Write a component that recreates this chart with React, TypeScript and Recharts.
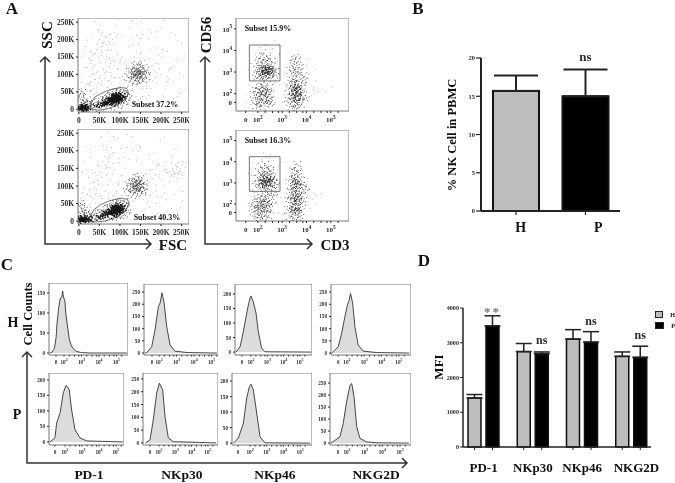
import React from 'react'
import {
  Area, AreaChart, Bar, BarChart, ErrorBar, LabelList, Legend, ReferenceArea,
  Scatter, ScatterChart, XAxis, YAxis,
} from 'recharts'

type Pair = [number, number]

// panel A, FSC / SSC in thousands
const fscTicks = [0, 50, 100, 150, 200, 250]
const sscTicks = [0, 50, 100, 150, 200, 250]

const sscTopSparse: Pair[] = [[12,40],[18,70],[25,95],[22,120],[35,60],[40,85],[30,140],[45,110],[50,135],[55,165],[60,190],[65,205],[58,220],[72,195],[80,170],[68,150],[75,120],[85,140],[95,115],[90,90],[100,75],[110,85],[115,110],[105,150],[120,180],[130,205],[125,235],[90,240],[50,245],[30,215],[15,180],[8,150],[10,100],[6,60],[20,30],[28,52],[42,48],[55,70],[62,88],[70,62],[80,72],[95,62],[120,68],[130,60],[145,70],[155,60],[165,60],[175,85],[185,110],[195,130],[205,150],[215,165],[225,120],[240,140],[250,190],[235,215],[200,235],[170,200],[150,160],[160,140],[178,125],[190,75],[210,60],[230,80],[245,45],[150,30],[170,40],[190,25],[62,195],[67,185],[55,180],[70,170],[48,150],[38,125],[33,100],[28,80],[20,55],[15,62],[45,75],[52,98],[60,115],[78,105],[88,125],[100,130],[112,135],[135,150],[145,185],[155,215],[175,170],[215,95],[200,100],[165,30],[135,20],[75,215],[82,200],[40,160],[24,145],[105,210],[185,205],[140,245],[255,95],[230,30]]
const sscTopMid: Pair[] = [[118,95],[122,110],[125,82],[128,100],[130,118],[132,90],[133,75],[135,108],[136,125],[137,95],[138,84],[139,112],[140,100],[141,130],[142,92],[143,106],[144,118],[145,80],[146,98],[147,110],[148,88],[149,125],[150,102],[151,94],[152,115],[153,108],[155,85],[156,120],[158,100],[160,112],[162,92],[165,105],[134,100],[141,104],[144,96],[138,102],[3,8],[5,20],[6,35],[8,12],[10,25],[12,5],[14,18],[16,10],[18,28],[20,8],[22,15],[25,5],[4,45],[7,50],[28,18],[30,12],[30,8],[35,14],[38,6],[42,20],[48,24],[50,5],[55,28],[60,32],[62,8],[68,36],[70,10],[74,42],[78,46],[82,50],[86,12],[90,52],[94,10],[98,50],[102,14],[106,48],[110,18],[112,44],[115,30],[118,38],[120,46],[116,22],[108,56],[95,56],[80,40],[72,34],[65,30]]
const sscTopCore: Pair[] = [[3,3],[6,2],[9,4],[12,3],[15,5],[18,3],[8,8],[13,8],[22,4],[5,6],[10,7],[16,2],[45,10],[52,12],[58,14],[64,16],[70,18],[75,22],[80,20],[84,26],[88,30],[92,26],[96,32],[100,36],[85,36],[90,38],[78,30],[95,42],[105,40],[110,34],[72,26],[66,22],[60,20],[100,24],[92,18],[82,14],[80,34],[86,22],[90,34],[94,36],[98,28],[104,32],[76,26],[88,42],[82,30],[96,38],[92,32],[86,30]]
const sscTopGate: Pair[] = [[27,7],[32,22],[39,35],[52,44],[67,52],[85,59],[104,62],[116,60],[120,50],[118,38],[112,28],[98,16],[84,7],[68,1],[51,-3],[36,-1],[27,7]]

const sscBottomSparse: Pair[] = [[14,45],[20,75],[27,90],[24,125],[36,65],[42,90],[32,145],[47,105],[52,140],[58,170],[62,185],[66,150],[60,215],[74,190],[82,165],[70,135],[77,115],[87,145],[97,110],[92,85],[103,72],[112,88],[118,105],[108,160],[122,175],[132,200],[128,240],[95,235],[55,240],[28,205],[12,170],[9,140],[11,95],[5,65],[18,32],[26,48],[40,52],[53,72],[64,85],[72,65],[84,74],[97,65],[122,66],[132,58],[147,66],[157,62],[168,55],[178,80],[188,105],[197,125],[207,155],[212,170],[222,128],[242,135],[252,160],[232,205],[198,230],[172,190],[152,165],[162,135],[180,120],[192,70],[212,62],[232,75],[247,40],[152,28],[172,38],[192,22],[222,140],[228,150],[234,135],[238,148],[244,142],[230,128],[240,122],[248,150],[226,132],[252,130],[236,160],[64,160],[56,125],[45,130],[35,110],[30,70],[150,210],[118,210],[85,195],[105,130],[140,180],[175,145],[205,100],[125,30],[255,85],[215,30]]
const sscBottomMid: Pair[] = [[115,90],[120,108],[123,85],[126,98],[128,115],[130,88],[131,72],[133,105],[134,122],[135,92],[136,82],[137,110],[138,98],[139,128],[140,90],[141,104],[142,115],[143,78],[144,96],[145,108],[146,86],[147,120],[148,100],[149,92],[150,112],[151,105],[153,82],[154,118],[156,98],[158,108],[160,88],[136,100],[140,102],[144,92],[132,96],[3,6],[4,22],[5,38],[7,14],[9,28],[11,6],[13,20],[15,12],[17,32],[19,9],[21,17],[24,6],[4,50],[8,48],[27,20],[30,14],[32,9],[36,16],[40,7],[44,22],[49,26],[52,6],[56,30],[61,34],[63,9],[69,38],[72,11],[75,44],[79,48],[83,52],[87,13],[91,54],[95,11],[99,52],[103,15],[107,50],[111,20],[113,46],[116,32],[119,40],[117,24],[109,58],[96,58],[81,42],[73,36],[66,32]]
const sscBottomCore: Pair[] = [[3,3],[6,5],[9,2],[12,6],[15,3],[18,7],[8,10],[22,3],[26,6],[30,4],[4,8],[11,4],[20,6],[47,11],[54,14],[60,16],[66,18],[72,22],[77,24],[82,22],[86,28],[90,32],[94,28],[98,34],[102,38],[87,38],[92,40],[80,32],[97,44],[106,40],[110,36],[74,28],[68,24],[62,22],[102,26],[94,20],[84,16],[82,36],[88,24],[90,36],[94,38],[98,30],[104,34],[78,28],[88,44],[84,30],[96,40],[92,34],[86,32]]
const sscBottomGate: Pair[] = [[24,4],[30,20],[38,34],[52,46],[68,55],[86,62],[104,65],[118,62],[122,52],[118,38],[110,26],[96,15],[80,6],[62,0],[44,-2],[30,-2],[24,4]]

// panel A, CD3 / CD56 in decades (0 sits below the 10^2 tick)
const cdTopSparse: Pair[] = [[1.7,1.5],[1.8,2.6],[1.9,3.8],[2.6,4.1],[2.9,3.9],[3.0,1.6],[2.9,2.4],[2.7,2.5],[1.55,1.9],[1.65,2.4],[4.2,1.9],[4.3,2.3],[4.5,2.1],[4.8,2.1],[3.1,3.0],[3.2,2.8],[1.6,3.1],[1.75,3.4],[2.8,3.5],[2.7,3.7],[2.1,4.15],[2.4,4.25],[4.1,2.9],[4.0,3.3],[3.05,1.3]]
const cdTopMid: Pair[] = [[1.9,2.8],[1.95,3.2],[2.0,3.5],[2.05,2.9],[2.1,3.3],[2.1,3.7],[2.15,2.75],[2.15,3.1],[2.2,3.55],[2.2,2.7],[2.25,3.3],[2.25,3.85],[2.3,2.85],[2.35,3.45],[2.35,3.75],[2.4,2.7],[2.4,3.3],[2.45,3.6],[2.5,2.85],[2.5,3.25],[2.55,3.5],[2.6,3.0],[2.6,2.75],[2.65,3.25],[2.7,3.05],[2.75,2.85],[2.0,3.0],[2.1,2.95],[2.2,3.2],[2.3,3.25],[2.5,3.05],[2.55,3.15],[1.8,1.8],[1.85,2.1],[1.9,1.5],[1.95,2.3],[2.0,1.75],[2.0,2.05],[2.05,1.4],[2.1,2.25],[2.1,1.9],[2.15,1.6],[2.2,2.1],[2.2,2.4],[2.25,1.3],[2.25,1.8],[2.3,2.0],[2.35,1.55],[2.35,2.3],[2.4,1.85],[2.45,2.1],[2.5,1.5],[2.5,1.95],[2.55,2.25],[2.6,1.7],[2.15,2.0],[2.05,2.35],[2.3,1.65],[2.2,1.95],[2.05,1.6],[2.3,2.15],[2.45,1.7],[1.95,1.95],[2.15,1.75],[2.35,2.05],[2.1,2.1],[2.25,2.25],[2.0,1.55],[3.2,1.7],[3.25,2.2],[3.3,1.4],[3.3,2.5],[3.35,1.9],[3.4,2.7],[3.4,1.6],[3.4,3.3],[3.45,2.3],[3.45,3.0],[3.5,1.35],[3.5,2.9],[3.5,3.5],[3.55,1.75],[3.55,2.6],[3.55,3.2],[3.6,3.7],[3.6,1.3],[3.65,2.4],[3.65,3.0],[3.7,1.6],[3.7,2.75],[3.7,3.35],[3.75,2.1],[3.75,3.1],[3.8,1.5],[3.8,2.5],[3.85,1.85],[3.85,2.85],[3.9,2.2],[3.95,2.65],[4.0,1.8],[3.3,3.1],[3.45,3.6]]
const cdTopCore: Pair[] = [[2.2,3.05],[2.3,3.0],[2.35,3.12],[2.4,3.0],[2.3,3.12],[2.42,3.1],[2.28,2.95],[2.45,3.02],[2.15,3.2],[2.5,3.15],[2.2,2.9],[2.45,2.88],[3.45,2.0],[3.5,2.15],[3.55,1.95],[3.6,2.1],[3.65,1.9],[3.5,1.8],[3.6,2.25],[3.55,2.4],[3.65,2.15],[3.45,2.3],[3.7,2.0],[3.6,1.7],[3.4,1.8],[3.7,2.3],[3.4,2.15],[3.75,1.8],[3.55,1.6],[3.5,2.55]]
const cdTopGate = { x1: 1.65, x2: 2.91, y1: 2.59, y2: 4.25 }

const cdBottomSparse: Pair[] = [[1.75,1.6],[1.85,2.55],[1.95,3.85],[2.65,4.05],[2.85,3.8],[3.02,1.5],[2.95,2.3],[2.75,2.55],[1.6,1.95],[1.7,2.35],[4.15,1.8],[4.25,2.2],[4.4,2.4],[3.15,3.0],[3.25,2.9],[1.65,3.05],[1.8,3.35],[2.8,3.6],[2.65,3.75],[2.15,4.1],[2.35,4.2],[4.1,2.75],[4.05,3.2],[4.05,2.4],[3.08,1.25]]
const cdBottomMid: Pair[] = [[1.9,2.85],[1.98,3.25],[2.02,3.55],[2.08,2.95],[2.12,3.4],[2.12,3.8],[2.18,2.8],[2.18,3.15],[2.22,3.6],[2.22,2.72],[2.28,3.35],[2.28,3.9],[2.32,2.9],[2.38,3.5],[2.38,3.7],[2.42,2.75],[2.42,3.35],[2.48,3.6],[2.52,2.9],[2.52,3.3],[2.58,3.45],[2.62,3.05],[2.62,2.78],[2.68,3.25],[2.72,3.0],[2.02,3.05],[2.12,3.0],[2.22,3.25],[2.32,3.3],[2.52,3.1],[1.75,1.75],[1.8,2.05],[1.85,1.5],[1.9,2.25],[1.95,1.7],[1.98,2.0],[2.0,1.35],[2.05,2.3],[2.08,1.85],[2.1,1.55],[2.15,2.1],[2.15,2.4],[2.2,1.3],[2.2,1.8],[2.25,2.0],[2.3,1.5],[2.3,2.3],[2.35,1.85],[2.4,2.1],[2.45,1.45],[2.45,1.95],[2.5,2.4],[2.55,1.7],[2.6,2.1],[2.65,2.45],[2.1,2.0],[2.0,1.9],[2.25,1.65],[2.4,2.55],[2.18,1.95],[2.03,1.62],[2.28,2.12],[2.42,1.72],[1.92,1.92],[2.12,1.72],[2.32,2.02],[2.08,2.12],[2.22,2.22],[1.98,1.52],[3.2,1.75],[3.22,2.25],[3.28,1.45],[3.3,2.55],[3.32,1.95],[3.38,2.75],[3.4,1.65],[3.42,3.35],[3.45,2.35],[3.45,3.05],[3.48,1.35],[3.5,2.95],[3.5,3.6],[3.52,1.7],[3.55,2.65],[3.55,3.25],[3.6,3.9],[3.6,1.25],[3.65,2.45],[3.65,3.05],[3.68,1.55],[3.7,2.8],[3.7,3.4],[3.72,2.15],[3.75,3.15],[3.78,1.45],[3.8,2.55],[3.85,1.9],[3.85,2.9],[3.9,2.25],[3.95,2.7],[3.32,3.15],[3.48,3.7],[3.62,3.55]]
const cdBottomCore: Pair[] = [[2.2,3.1],[2.3,3.02],[2.35,3.15],[2.4,3.05],[2.3,2.98],[2.42,3.14],[2.25,3.18],[2.48,3.06],[2.15,3.0],[2.5,3.2],[2.25,2.9],[2.5,2.95],[3.45,2.0],[3.5,2.15],[3.55,1.85],[3.6,2.05],[3.6,1.7],[3.5,1.6],[3.55,2.35],[3.5,2.6],[3.6,2.85],[3.55,3.05],[3.65,2.5],[3.45,2.8],[3.6,2.25],[3.4,1.75],[3.7,2.2],[3.4,2.3],[3.7,1.8],[3.5,3.2],[3.65,2.95]]
const cdBottomGate = { x1: 1.65, x2: 2.91, y1: 2.6, y2: 4.24 }

// panel C histograms: decade position, cell count
const histPd1H: Pair[] = [[1.2,0],[1.31,2],[1.45,12],[1.55,40],[1.6,75],[1.7,115],[1.78,135],[1.88,142],[1.92,155],[1.97,140],[2.05,130],[2.1,100],[2.22,60],[2.3,35],[2.4,20],[2.5,12],[2.7,4],[3,1],[3.5,0],[5.6,0]]
const histNkp30H: Pair[] = [[1.2,0],[1.3,2],[1.58,26],[1.77,95],[1.96,190],[2.06,205],[2.17,247],[2.29,205],[2.44,108],[2.63,33],[2.9,8],[3.6,2],[5.3,0]]
const histNkp46H: Pair[] = [[1.08,0],[1.33,18],[1.53,70],[1.74,134],[1.84,162],[1.94,186],[2.0,193],[2.14,173],[2.31,134],[2.45,70],[2.65,14],[2.86,1],[5.7,0]]
const histNkg2dH: Pair[] = [[1.12,0],[1.5,26],[1.69,80],[1.88,148],[2.02,195],[2.13,217],[2.21,244],[2.33,205],[2.46,108],[2.65,33],[2.94,8],[3.7,2],[5.6,0]]
const histPd1P: Pair[] = [[1.12,0],[1.41,13],[1.51,61],[1.71,93],[1.9,158],[2.06,182],[2.16,177],[2.25,168],[2.39,103],[2.59,39],[2.88,13],[3.28,3],[5.4,0]]
const histNkp30P: Pair[] = [[1.18,0],[1.45,12],[1.65,90],[1.86,195],[2.02,233],[2.23,207],[2.37,103],[2.57,20],[2.88,5],[4.5,2],[5.5,0]]
const histNkp46P: Pair[] = [[1.0,0],[1.3,16],[1.6,64],[1.8,145],[1.96,182],[2.06,190],[2.2,171],[2.4,97],[2.6,20],[2.9,1],[5.6,0]]
const histNkg2dP: Pair[] = [[1.1,0],[1.6,26],[1.79,83],[1.98,172],[2.17,241],[2.27,248],[2.4,193],[2.55,68],[2.73,20],[3.1,5],[3.68,1],[5.5,0]]

const ticks200 = [0, 50, 100, 150, 200]
const ticks150 = [0, 50, 100, 150]
const ticks250 = [0, 50, 100, 150, 200, 250]
const minorDecades = [2.3, 2.6, 2.85, 3.3, 3.6, 3.85, 4.3, 4.6, 4.85, 5.3]

// panel B
const nkGroups = ['H', 'P']
const nkPercent = [15.7, 15.0]
const nkUpper = [17.7, 18.5]
const nkSig = ['', 'ns']
const nkColors = ['#bdbdbd', '#000000']

// panel D
const mfiMarkers = ['PD-1', 'NKp30', 'NKp46', 'NKG2D']
const mfiH = [1410, 2745, 3105, 2608]
const mfiHUpper = [1510, 2978, 3377, 2735]
const mfiP = [3484, 2686, 3017, 2579]
const mfiPUpper = [3776, 2735, 3319, 2900]
const mfiSig = ['**', 'ns', 'ns', 'ns']

const SERIF = '"Liberation Serif", serif'
const INK = '#2a2a2a'

const toPoints = (pairs: Pair[]) => pairs.map(([x, y]) => ({ x, y }))

// one event mark is drawn as a small grain of dots, so a cloud reads as stippled
const grains = [
  [[0, 0], [2, -1], [-2, 1], [1, 2], [-1, -2]],
  [[0, 0], [-2, -1], [2, 1], [-1, 2], [1, -2], [3, 0]],
  [[0, 0], [1, -3], [-3, 0], [2, 2], [-1, 1]],
  [[0, 0], [3, -2], [-2, -2], [-2, 3], [1, 1], [3, 2]],
]

const grain = (spread: number, r: number, fill: string, count = 6) => (p: any) => {
  const pick = grains[Math.abs(Math.round(p.cx * 7 + p.cy * 13)) % grains.length].slice(0, count)
  return (
    <g fill={fill}>
      {pick.map(([dx, dy], i) => <circle key={i} cx={p.cx + dx * spread} cy={p.cy + dy * spread} r={r} />)}
    </g>
  )
}

const Place = ({ x, y, w, h, children }: any) => (
  <div style={{ position: 'absolute', left: x, top: y, width: w, height: h }}>{children}</div>
)

const SmallText = ({ x, y, anchor, size, children }: any) => (
  <text x={x} y={y} textAnchor={anchor} fontFamily={SERIF} fontWeight="bold" fontSize={size} fill={INK}>
    {children}
  </text>
)

const powerTick = (zero: number, size: number, axis: 'x' | 'y') => (p: any) => {
  const v = p.payload.value
  const labelled = v === zero || v === 2 || v === 3 || v === 4 || v === 5
  if (!labelled) return <g />
  const y = axis === 'x' ? p.y + size : p.y + size * 0.4
  const anchor = axis === 'x' ? 'middle' : 'end'
  if (v === zero) return <SmallText x={p.x} y={y} anchor={anchor} size={size}>0</SmallText>
  return (
    <SmallText x={p.x} y={y} anchor={anchor} size={size}>
      10<tspan dy={-size * 0.45} fontSize={size * 0.75}>{v}</tspan>
    </SmallText>
  )
}

const kTick = (axis: 'x' | 'y') => (p: any) => {
  const v = p.payload.value
  const label = v === 0 ? '0' : `${v}K`
  return axis === 'x'
    ? <SmallText x={p.x} y={p.y + 7} anchor="middle" size={7.5}>{label}</SmallText>
    : <SmallText x={p.x} y={p.y + 2.5} anchor="end" size={7.5}>{label}</SmallText>
}

const countTick = (p: any) => (
  <SmallText x={p.x} y={p.y + 2} anchor="end" size={5.2}>{p.payload.value}</SmallText>
)

const CloudPlot = ({ box, axisW, axisH, xDomain, yDomain, xTicks, yTicks, xTick, yTick, sparse, mid, core, coreShape, gate, rect }: any) => (
  <Place x={box.x - axisW} y={box.y} w={box.w + axisW} h={box.h + axisH}>
    <ScatterChart width={box.w + axisW} height={box.h + axisH} margin={{ top: 0, right: 0, bottom: 0, left: 0 }}>
      <XAxis type="number" dataKey="x" domain={xDomain} ticks={xTicks} interval={0} height={axisH} axisLine={false}
        tickSize={2} tickMargin={2} tick={xTick} stroke={INK} allowDataOverflow />
      <YAxis type="number" dataKey="y" domain={yDomain} ticks={yTicks} interval={0} width={axisW} axisLine={false}
        tickSize={2} tickMargin={2} tick={yTick} stroke={INK} allowDataOverflow />
      <Scatter data={toPoints(sparse)} shape={grain(2.2, 0.45, '#6a6a6a', 2)} isAnimationActive={false} />
      <Scatter data={toPoints(mid)} shape={grain(1.3, 0.5, '#3a3a3a')} isAnimationActive={false} />
      <Scatter data={toPoints(core)} shape={coreShape} isAnimationActive={false} />
      {gate && (
        <Scatter data={toPoints(gate)} shape={() => <g />} line={{ stroke: '#555', strokeWidth: 0.8 }} isAnimationActive={false} />
      )}
      {rect && <ReferenceArea {...rect} fill="none" stroke="#555" strokeWidth={0.8} />}
      <ReferenceArea x1={xDomain[0]} x2={xDomain[1]} y1={yDomain[0]} y2={yDomain[1]} fill="none" stroke="#777" strokeWidth={1} />
    </ScatterChart>
  </Place>
)

const HistPlot = ({ box, zero, xDomain, yDomain, yTicks, data }: any) => (
  <Place x={box.x - 18} y={box.y} w={box.w + 18} h={box.h + 16}>
    <AreaChart width={box.w + 18} height={box.h + 16} data={toPoints(data)} margin={{ top: 0, right: 0, bottom: 0, left: 0 }}>
      <XAxis type="number" dataKey="x" domain={xDomain} ticks={[zero, 2, 3, 4, 5, ...minorDecades].sort((a, b) => a - b)}
        interval={0} height={16} axisLine={false} tickSize={1.5} tickMargin={2} tick={powerTick(zero, 5.2, 'x')} stroke={INK} allowDataOverflow />
      <YAxis type="number" domain={yDomain} ticks={yTicks} interval={0} width={18} axisLine={false}
        tickSize={2} tickMargin={2} tick={countTick} stroke={INK} allowDataOverflow />
      <Area type="linear" dataKey="y" baseValue={0} stroke="#333" strokeWidth={0.9} fill="#dcdcdc" fillOpacity={1} dot={false} isAnimationActive={false} />
      <ReferenceArea x1={xDomain[0]} x2={xDomain[1]} y1={yDomain[0]} y2={yDomain[1]} fill="none" stroke="#777" strokeWidth={1} />
    </AreaChart>
  </Place>
)

const flowMinor = [2.3, 2.6, 2.85, 3.3, 3.6, 3.85, 4.3, 4.6, 4.85, 5.3]
const flowXTicks = [1.5, 2, ...flowMinor, 3, 4, 5].sort((a, b) => a - b)
const flowYTicks = [1.6, 2, 3, 4, 5]

const histPanels = [
  { box: { x: 49, y: 283, w: 79, h: 72 }, zero: 1.54, xDomain: [1.14, 5.66], yDomain: [-5, 175], yTicks: ticks150, data: histPd1H },
  { box: { x: 144, y: 284, w: 74, h: 71 }, zero: 1.6, xDomain: [1.14, 5.37], yDomain: [-8, 283], yTicks: ticks250, data: histNkp30H },
  { box: { x: 235, y: 284, w: 77, h: 71 }, zero: 1.45, xDomain: [1.02, 5.74], yDomain: [-10, 234], yTicks: ticks200, data: histNkp46H },
  { box: { x: 331, y: 284, w: 80, h: 71 }, zero: 1.5, xDomain: [1.08, 5.7], yDomain: [-8, 283], yTicks: ticks250, data: histNkg2dH },
  { box: { x: 49, y: 373, w: 75, h: 72 }, zero: 1.41, xDomain: [1.06, 5.47], yDomain: [-10, 222], yTicks: ticks200, data: histPd1P },
  { box: { x: 143, y: 373, w: 75, h: 72 }, zero: 1.45, xDomain: [1.02, 5.62], yDomain: [-8, 273], yTicks: ticks250, data: histNkp30P },
  { box: { x: 232, y: 373, w: 80, h: 72 }, zero: 1.28, xDomain: [0.92, 5.71], yDomain: [-6, 226], yTicks: ticks200, data: histNkp46P },
  { box: { x: 330, y: 373, w: 81, h: 72 }, zero: 1.5, xDomain: [1.04, 5.62], yDomain: [-8, 292], yTicks: ticks250, data: histNkg2dP },
]

const nkData = nkGroups.map((name, i) => ({
  name,
  value: nkPercent[i],
  err: [0, nkUpper[i] - nkPercent[i]],
  sig: nkSig[i],
  fill: nkColors[i],
}))

const mfiData = mfiMarkers.map((name, i) => ({
  name,
  h: mfiH[i],
  hErr: [0, mfiHUpper[i] - mfiH[i]],
  p: mfiP[i],
  pErr: [0, mfiPUpper[i] - mfiP[i]],
  sig: mfiSig[i],
}))

const tickBar = (p: any) => {
  const base = p.y + p.height
  const mid = p.x + p.width / 2
  return (
    <g>
      <rect x={p.x} y={p.y} width={p.width} height={p.height} fill={p.fill} stroke="#111" strokeWidth={1.5} />
      <line x1={mid} x2={mid} y1={base} y2={base + 3} stroke="#222" strokeWidth={1} />
    </g>
  )
}

const nkBar = (p: any) => {
  const base = p.y + p.height
  const mid = p.x + p.width / 2
  return (
    <g>
      <rect x={p.x} y={p.y} width={p.width} height={p.height} fill={p.payload.fill} stroke="#111" strokeWidth={2} />
      <line x1={mid} x2={mid} y1={base} y2={base + 4} stroke="#222" strokeWidth={1.2} />
    </g>
  )
}

const mfiSigLabel = (p: any) => {
  const lift = [10, 10, 17, 18][p.index] ?? 0
  const stars = p.value === '**'
  return (
    <text x={p.x + p.width / 2} y={p.y - lift} textAnchor="middle" fontFamily={SERIF} fontWeight="bold"
      fontSize={stars ? 13 : 12} letterSpacing={stars ? 2 : 0} fill={stars ? '#777' : INK}>
      {p.value}
    </text>
  )
}

const groupTick = (shift: number[], size: number, dy: number) => (p: any) => (
  <text x={p.x + (shift[p.index] ?? 0)} y={p.y + dy} textAnchor="middle" fontFamily={SERIF} fontWeight="bold" fontSize={size} fill="#111">
    {p.payload.value}
  </text>
)

const valueTick = (size: number) => (p: any) => (
  <SmallText x={p.x} y={p.y + size * 0.35} anchor="end" size={size}>{p.payload.value}</SmallText>
)

const mfiLegend = () => (
  <div style={{ fontFamily: SERIF, fontWeight: 'bold', fontSize: 6, color: '#111' }}>
    {[['H', '#bdbdbd'], ['P', '#000']].map(([n, c]) => (
      <div key={n} style={{ display: 'flex', alignItems: 'center', height: 11 }}>
        <span style={{ width: 8, height: 5, background: c, border: '1px solid #222', marginRight: 7 }} />
        {n}
      </div>
    ))}
  </div>
)

const Arrow = ({ d }: { d: string }) => <path d={d} fill="none" stroke="#333" strokeWidth={1.5} />

const Caption = ({ x, y, size, rotate, anchor = 'middle', children }: any) => (
  <text x={x} y={y} fontFamily={SERIF} fontWeight="bold" fontSize={size} textAnchor={anchor} fill="#111"
    transform={rotate ? `rotate(-90 ${x} ${y})` : undefined}>
    {children}
  </text>
)

const sscCore = grain(0.9, 0.85, '#151515')
const cdCore = grain(1.2, 0.6, '#222')

export default function App() {
  return (
    <div style={{ position: 'absolute', left: 0, top: 0, width: 675, height: 483, background: '#fff', overflow: 'hidden', filter: 'blur(0.35px)' }}>
      <CloudPlot box={{ x: 78, y: 18, w: 111, h: 94 }} axisW={26} axisH={14} xDomain={[-2, 268]} yDomain={[-8, 262]}
        xTicks={fscTicks} yTicks={sscTicks} xTick={kTick('x')} yTick={kTick('y')}
        sparse={sscTopSparse} mid={sscTopMid} core={sscTopCore} coreShape={sscCore} gate={sscTopGate} />
      <CloudPlot box={{ x: 78, y: 129, w: 111, h: 95 }} axisW={26} axisH={14} xDomain={[-2, 268]} yDomain={[-8, 262]}
        xTicks={fscTicks} yTicks={sscTicks} xTick={kTick('x')} yTick={kTick('y')}
        sparse={sscBottomSparse} mid={sscBottomMid} core={sscBottomCore} coreShape={sscCore} gate={sscBottomGate} />
      <CloudPlot box={{ x: 236, y: 18, w: 113, h: 93 }} axisW={18} axisH={20} xDomain={[1.1, 5.75]} yDomain={[1.2, 5.5]}
        xTicks={flowXTicks} yTicks={flowYTicks} xTick={powerTick(1.5, 7, 'x')} yTick={powerTick(1.6, 7, 'y')}
        sparse={cdTopSparse} mid={cdTopMid} core={cdTopCore} coreShape={cdCore} rect={cdTopGate} />
      <CloudPlot box={{ x: 236, y: 130, w: 113, h: 91 }} axisW={18} axisH={20} xDomain={[1.1, 5.75]} yDomain={[1.2, 5.5]}
        xTicks={flowXTicks} yTicks={flowYTicks} xTick={powerTick(1.5, 7, 'x')} yTick={powerTick(1.6, 7, 'y')}
        sparse={cdBottomSparse} mid={cdBottomMid} core={cdBottomCore} coreShape={cdCore} rect={cdBottomGate} />

      {histPanels.map((panel, i) => <HistPlot key={i} {...panel} />)}

      <Place x={445} y={36} w={175} h={200}>
        <BarChart width={175} height={200} data={nkData} margin={{ top: 22, right: 0, bottom: 0, left: 0 }}>
          <XAxis dataKey="name" height={25} tickLine={false} axisLine={{ stroke: '#222', strokeWidth: 2 }} interval={0}
            tick={groupTick([5, 13], 14, 13)} />
          <YAxis type="number" domain={[0, 20]} ticks={[0, 5, 10, 15, 20]} width={36} interval={0} tickSize={5} tickMargin={1}
            axisLine={{ stroke: '#222', strokeWidth: 2 }} tickLine={{ stroke: '#222', strokeWidth: 1.2 }} tick={valueTick(6.5)} />
          <Bar dataKey="value" barSize={46} shape={nkBar} isAnimationActive={false}>
            <ErrorBar dataKey="err" width={22} strokeWidth={2} stroke="#222" isAnimationActive={false} />
            <LabelList dataKey="sig" content={(p: any) => (
              <text x={p.x + p.width / 2} y={p.y - 35} textAnchor="middle" fontFamily={SERIF} fontWeight="bold" fontSize={13} fill={INK}>{p.value}</text>
            )} />
          </Bar>
        </BarChart>
      </Place>

      <Place x={430} y={302} w={245} h={175}>
        <BarChart width={245} height={175} data={mfiData} barSize={13} barGap={5}
          margin={{ top: 6, right: 24, bottom: 0, left: 0 }}>
          <XAxis dataKey="name" height={30} tickLine={false} axisLine={{ stroke: '#222', strokeWidth: 1.5 }} interval={0}
            padding={{ left: -4, right: -5 }} tick={groupTick([0, 0, 0, 5], 13, 17)} />
          <YAxis type="number" domain={[0, 4000]} ticks={[0, 1000, 2000, 3000, 4000]} width={33} interval={0} tickSize={3} tickMargin={1}
            axisLine={{ stroke: '#222', strokeWidth: 1.5 }} tickLine={{ stroke: '#222', strokeWidth: 1 }} tick={valueTick(6.2)} />
          <Legend layout="vertical" align="center" verticalAlign="middle" content={mfiLegend}
            wrapperStyle={{ left: 225, top: 7, width: 20 }} />
          <Bar dataKey="h" name="H" fill="#bdbdbd" shape={tickBar} isAnimationActive={false}>
            <ErrorBar dataKey="hErr" width={8} strokeWidth={1.5} stroke="#222" isAnimationActive={false} />
          </Bar>
          <Bar dataKey="p" name="P" fill="#000" shape={tickBar} isAnimationActive={false}>
            <ErrorBar dataKey="pErr" width={8} strokeWidth={1.5} stroke="#222" isAnimationActive={false} />
            <LabelList dataKey="sig" content={mfiSigLabel} />
          </Bar>
        </BarChart>
      </Place>

      <svg width={675} height={483} style={{ position: 'absolute', left: 0, top: 0, pointerEvents: 'none' }}>
        <Caption x={12} y={14} size={17}>A</Caption>
        <Caption x={418} y={14} size={17}>B</Caption>
        <Caption x={7} y={270} size={17}>C</Caption>
        <Caption x={424} y={266} size={17}>D</Caption>

        <Arrow d="M45 57 V244 H151 M40 62 L45 57 L50 62 M146 239 L151 244 L146 249" />
        <Arrow d="M205 57 V244 H312 M200 62 L205 57 L210 62 M307 239 L312 244 L307 249" />
        <Arrow d="M27 352 V463 H407 M22 357 L27 352 L32 357 M402 458 L407 463 L402 468" />

        <Caption x={52} y={35} size={15} rotate>SSC</Caption>
        <Caption x={173} y={250} size={15}>FSC</Caption>
        <Caption x={211} y={35} size={15} rotate>CD56</Caption>
        <Caption x={335} y={250} size={15}>CD3</Caption>
        <Caption x={32} y={314} size={12.5} rotate>Cell Counts</Caption>
        <Caption x={13} y={327} size={14}>H</Caption>
        <Caption x={17} y={419} size={14}>P</Caption>
        <Caption x={89} y={479} size={13.5}>PD-1</Caption>
        <Caption x={182} y={479} size={13.5}>NKp30</Caption>
        <Caption x={275} y={479} size={13.5}>NKp46</Caption>
        <Caption x={376} y={479} size={13.5}>NKG2D</Caption>
        <Caption x={456} y={135} size={12.5} rotate>% NK Cell in PBMC</Caption>
        <Caption x={443} y={367} size={13} rotate>MFI</Caption>

        <Caption x={155} y={107} size={8}>Subset 37.2%</Caption>
        <Caption x={157} y={220} size={8}>Subset 40.3%</Caption>
        <Caption x={268} y={31} size={8}>Subset 15.9%</Caption>
        <Caption x={268} y={143} size={8}>Subset 16.3%</Caption>
      </svg>
    </div>
  )
}
